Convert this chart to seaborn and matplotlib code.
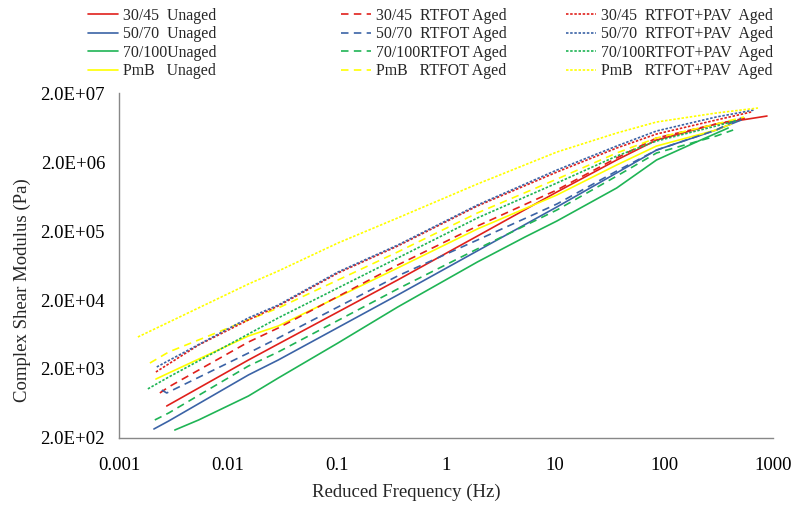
import matplotlib
matplotlib.use("Agg")
import matplotlib.pyplot as plt
import seaborn as sns
import pandas as pd
from matplotlib.ticker import FixedLocator, FixedFormatter, NullLocator

# ---- data ----
binders = ["30/45", "50/70", "70/100", "PmB"]
conditions = ["Unaged", "RTFOT Aged", "RTFOT+PAV Aged"]

# 30/45 Unaged
f_3045_u = [0.00274, 0.0154, 0.0289, 0.360, 1.94, 10.4, 36.8, 85.4, 301, 881]
g_3045_u = [582, 2.70e3, 4.61e3, 3.90e4, 1.69e5, 7.35e5, 2.14e6, 4.17e6, 7.11e6, 9.28e6]
# 50/70 Unaged
f_5070_u = [0.00209, 0.00286, 0.0154, 0.0289, 0.360, 1.94, 10.4, 36.8, 85.4, 301, 510]
g_5070_u = [270, 353, 1.64e3, 2.70e3, 2.36e4, 1.03e5, 4.46e5, 1.39e6, 2.98e6, 5.82e6, 8.12e6]
# 70/100 Unaged
f_70100_u = [0.00325, 0.00538, 0.0154, 0.0289, 0.102, 0.360, 1.94, 5.32, 10.4, 36.8, 85.4, 198, 388]
g_70100_u = [261, 365, 812, 1.48e3, 4.76e3, 1.58e4, 7.11e4, 1.64e5, 2.79e5, 8.40e5, 2.14e6, 3.90e6, 6.22e6]
# PmB Unaged
f_pmb_u = [0.00218, 0.00286, 0.0154, 0.0289, 0.360, 1.94, 10.4, 36.8, 85.4, 301, 413]
g_pmb_u = [1.43e3, 1.75e3, 6.02e3, 8.40e3, 5.82e4, 2.14e5, 6.65e5, 1.81e6, 3.41e6, 5.82e6, 7.11e6]

# 30/45 RTFOT
f_3045_r = [0.00237, 0.00286, 0.0154, 0.0289, 0.360, 1.94, 10.4, 36.8, 85.4, 301, 567]
g_3045_r = [898, 1.10e3, 4.92e3, 7.86e3, 6.43e4, 2.36e5, 7.86e5, 2.29e6, 4.46e6, 7.11e6, 8.69e6]
# 50/70 RTFOT
f_5070_r = [0.00247, 0.00274, 0.0154, 0.0289, 0.360, 1.94, 10.4, 36.8, 85.4, 301, 510]
g_5070_r = [992, 898, 3.41e3, 5.63e3, 4.46e4, 1.48e5, 4.92e5, 1.48e6, 2.98e6, 5.82e6, 8.69e6]
# 70/100 RTFOT
f_70100_r = [0.00213, 0.00286, 0.0154, 0.0289, 0.360, 1.94, 10.4, 36.8, 85.4, 301, 431]
g_70100_r = [365, 461, 2.21e3, 3.53e3, 2.89e4, 1.10e5, 4.03e5, 1.25e6, 2.70e6, 4.76e6, 5.82e6]
# PmB RTFOT
f_pmb_r = [0.00192, 0.00286, 0.0154, 0.0289, 0.360, 1.94, 10.4, 36.8, 85.4, 301, 543]
g_pmb_r = [2.44e3, 3.53e3, 1.03e4, 1.53e4, 9.92e4, 3.65e5, 1.13e6, 2.70e6, 4.46e6, 7.11e6, 8.98e6]

# 30/45 RTFOT+PAV
f_3045_p = [0.00218, 0.00538, 0.0154, 0.0289, 0.102, 0.360, 1.94, 10.4, 36.8, 85.4, 301, 630]
g_3045_p = [1.81e3, 4.46e3, 1.03e4, 1.64e4, 4.92e4, 1.21e5, 4.61e5, 1.43e6, 3.19e6, 5.09e6, 8.12e6, 1.061e7]
# 50/70 RTFOT+PAV
f_5070_p = [0.00222, 0.0154, 0.0289, 0.102, 0.360, 1.94, 10.4, 36.8, 85.4, 301, 670]
g_5070_p = [2.14e3, 1.10e4, 1.69e4, 5.09e4, 1.25e5, 4.76e5, 1.53e6, 3.41e6, 5.63e6, 8.98e6, 1.134e7]
# 70/100 RTFOT+PAV
f_70100_p = [0.00184, 0.00286, 0.0154, 0.0289, 0.360, 1.94, 10.4, 36.8, 85.4, 301, 479]
g_70100_p = [1.03e3, 1.53e3, 6.43e3, 1.10e4, 8.12e4, 3.09e5, 9.92e5, 2.44e6, 4.03e6, 6.65e6, 8.12e6]
# PmB RTFOT+PAV
f_pmb_p = [0.00149, 0.0154, 0.0289, 0.102, 0.360, 1.94, 10.4, 36.8, 85.4, 301, 729]
g_pmb_p = [5.82e3, 3.41e4, 5.26e4, 1.34e5, 3.09e5, 9.60e5, 2.79e6, 5.26e6, 7.60e6, 1.026e7, 1.212e7]

legend_labels = [
    "30/45  Unaged", "50/70  Unaged", "70/100Unaged", "PmB   Unaged",
    "30/45  RTFOT Aged", "50/70  RTFOT Aged", "70/100RTFOT Aged", "PmB   RTFOT Aged",
    "30/45  RTFOT+PAV  Aged", "50/70  RTFOT+PAV  Aged", "70/100RTFOT+PAV  Aged", "PmB   RTFOT+PAV  Aged",
]
x_ticks = [0.001, 0.01, 0.1, 1, 10, 100, 1000]
x_tick_labels = ["0.001", "0.01", "0.1", "1", "10", "100", "1000"]
y_ticks = [2e2, 2e3, 2e4, 2e5, 2e6, 2e7]
y_tick_labels = ["2.0E+02", "2.0E+03", "2.0E+04", "2.0E+05", "2.0E+06", "2.0E+07"]

series = [
    (f_3045_u, g_3045_u), (f_5070_u, g_5070_u), (f_70100_u, g_70100_u), (f_pmb_u, g_pmb_u),
    (f_3045_r, g_3045_r), (f_5070_r, g_5070_r), (f_70100_r, g_70100_r), (f_pmb_r, g_pmb_r),
    (f_3045_p, g_3045_p), (f_5070_p, g_5070_p), (f_70100_p, g_70100_p), (f_pmb_p, g_pmb_p),
]

# ---- styling ----
sns.set_theme(style="white")
plt.rcParams["font.family"] = ["Liberation Serif", "DejaVu Serif"]

colors = {"30/45": "#E0201B", "50/70": "#3B63A6", "70/100": "#1FB455", "PmB": "#FFFF00"}
styles = {
    "Unaged": "-",
    "RTFOT Aged": (0, (4.5, 3.2)),
    "RTFOT+PAV Aged": (0, (1.5, 1.0)),
}

fig = plt.figure(figsize=(7.95, 5.05), dpi=100)
ax = fig.add_axes([0.1497, 0.1327, 0.9723 - 0.1497, 0.8158 - 0.1327])

i = 0
for cond in conditions:
    for b in binders:
        fx, gy = series[i]
        df = pd.DataFrame({"f": fx, "G": gy})
        sns.lineplot(data=df, x="f", y="G", ax=ax, color=colors[b],
                     linestyle=styles[cond], linewidth=1.2,
                     sort=False, estimator=None, legend=False)
        i += 1

ax.set_xscale("log")
ax.set_yscale("log")
ax.set_xlim(1e-3, 1e3)
ax.set_ylim(2e2, 2e7)
ax.xaxis.set_major_locator(FixedLocator(x_ticks))
ax.xaxis.set_major_formatter(FixedFormatter(x_tick_labels))
ax.xaxis.set_minor_locator(NullLocator())
ax.yaxis.set_major_locator(FixedLocator(y_ticks))
ax.yaxis.set_major_formatter(FixedFormatter(y_tick_labels))
ax.yaxis.set_minor_locator(NullLocator())

for s in ["top", "right"]:
    ax.spines[s].set_visible(False)
for s in ["left", "bottom"]:
    ax.spines[s].set_color("#888888")
    ax.spines[s].set_linewidth(1.0)

ax.tick_params(axis="both", which="major", direction="out", length=5,
               width=1.0, color="#888888", labelsize=13.5, labelcolor="black")
ax.tick_params(axis="x", pad=9)
ax.tick_params(axis="y", pad=5)
ax.grid(False)

ax.set_xlabel("Reduced Frequency (Hz)", fontsize=13.5)
ax.set_ylabel("Complex Shear Modulus (Pa)", fontsize=13.5)
ax.xaxis.set_label_coords(0.44, -0.133)
ax.yaxis.set_label_coords(-0.134, 0.43)

# legend: three columns, one legend per ageing condition
handles = ax.get_lines()
col_x = [88 / 795, 341 / 795, 566 / 795]
for c in range(3):
    fig.legend(handles[4 * c:4 * c + 4], legend_labels[4 * c:4 * c + 4],
               loc="upper left", bbox_to_anchor=(col_x[c], 1 - 8 / 505),
               frameon=False, fontsize=11.4, handlelength=1.9,
               handletextpad=0.3, labelspacing=0.15, borderpad=0.0,
               borderaxespad=0.0)

fig.savefig("out.png", dpi=100)
